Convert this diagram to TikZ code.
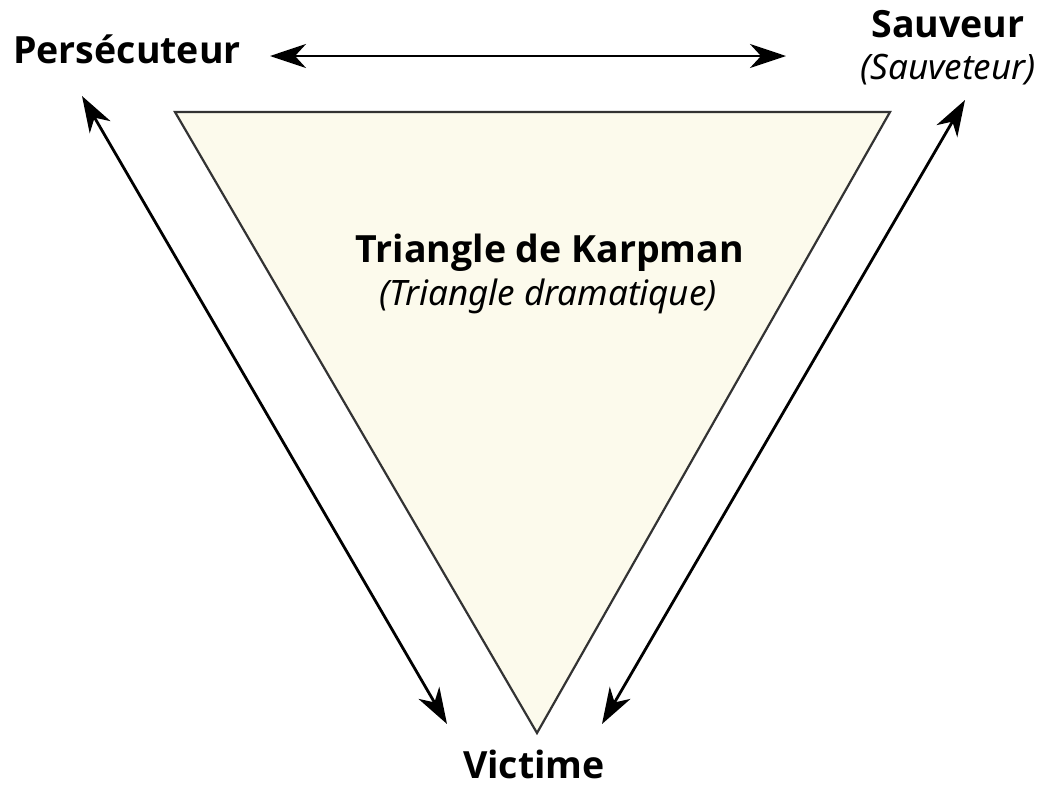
\documentclass[tikz,border=0pt]{standalone}
\usepackage{fontspec}
\setmainfont{Noto Sans}
\newfontfamily\heavy{Open Sans}
\usetikzlibrary{arrows.meta}
\definecolor{cream}{HTML}{FCFAEC}
\definecolor{edge}{HTML}{333333}
\tikzset{
  role/.style={font=\fontsize{37.5}{44}\selectfont\heavy\bfseries, inner sep=0pt, anchor=base},
  sub/.style={font=\fontsize{35}{40}\selectfont\itshape, inner sep=0pt, anchor=base},
  link/.style={line width=2.8pt, arrows={Stealth[length=36pt,width=24pt,inset=11pt]-Stealth[length=36pt,width=24pt,inset=11pt]}},
  drama/.style={fill=cream, draw=edge, line width=2.2pt, line join=miter}
}
\begin{document}
\begin{tikzpicture}[x=1pt,y=-1pt]
  \useasboundingbox (0,0) rectangle (1038,788);
  % the triangle itself
  \coordinate (tl) at (175,112);
  \coordinate (tr) at (890,112);
  \coordinate (bt) at (537,733);
  \draw[drama] (tl) -- (tr) -- (bt) -- cycle;
  % titles
  \node[role] (title) at (550,262) {Triangle de Karpman};
  \node[sub] (subtitle) at (548,305) {(Triangle dramatique)};
  % the three roles
  \node[role] (pers) at (127,63) {Persécuteur};
  \node[role] (sauv) at (948,37) {Sauveur};
  \node[sub] (sauv2) at (948,79) {(Sauveteur)};
  \node[role] (vict) at (534,778) {Victime};
  % arrow end points
  \coordinate (h1) at (270,56);
  \coordinate (h2) at (786,56);
  \coordinate (l1) at (82,96);
  \coordinate (l2) at (447,724);
  \coordinate (r1) at (965,100);
  \coordinate (r2) at (602,724);
  \draw[link] (h1) -- (h2);
  \draw[link] (l1) -- (l2);
  \draw[link] (r1) -- (r2);
\end{tikzpicture}
\end{document}
